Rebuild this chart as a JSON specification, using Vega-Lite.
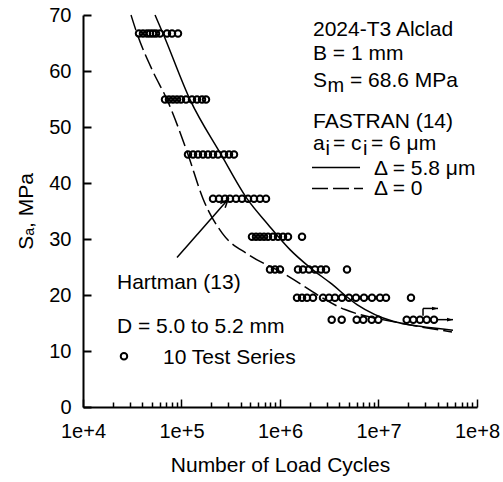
{
  "$schema": "https://vega.github.io/schema/vega-lite/v6.json",
  "width": 394,
  "height": 392,
  "autosize": {"type": "none"},
  "padding": {"left": 83, "top": 15, "right": 26, "bottom": 75},
  "background": "white",
  "config": {
    "view": {"stroke": null},
    "font": "Liberation Sans",
    "axis": {
      "grid": false,
      "domainColor": "black",
      "domainWidth": 2,
      "labelColor": "black",
      "titleColor": "black",
      "labelFont": "Liberation Sans",
      "titleFont": "Liberation Sans",
      "labelFontSize": 20,
      "titleFontSize": 21,
      "titleFontWeight": "normal"
    },
    "text": {"font": "Liberation Sans", "fontSize": 21, "color": "black"}
  },
  "datasets": {
    "pts": [
      {"N": 37030, "S": 66.7}, {"N": 40650, "S": 66.7}, {"N": 44640, "S": 66.7}, {"N": 47880, "S": 66.7}, {"N": 51360, "S": 66.7},
      {"N": 55100, "S": 66.7}, {"N": 60480, "S": 66.7}, {"N": 71250, "S": 66.7}, {"N": 80090, "S": 66.7}, {"N": 92150, "S": 66.7},
      {"N": 68000, "S": 54.9}, {"N": 74650, "S": 54.9}, {"N": 81950, "S": 54.9}, {"N": 90000, "S": 54.9}, {"N": 98830, "S": 54.9},
      {"N": 111100, "S": 54.9}, {"N": 127800, "S": 54.9}, {"N": 143700, "S": 54.9}, {"N": 161500, "S": 54.9}, {"N": 177300, "S": 54.9},
      {"N": 116400, "S": 45.1}, {"N": 130900, "S": 45.1}, {"N": 147100, "S": 45.1}, {"N": 165300, "S": 45.1}, {"N": 185800, "S": 45.1},
      {"N": 208900, "S": 45.1}, {"N": 234800, "S": 45.1}, {"N": 270100, "S": 45.1}, {"N": 303600, "S": 45.1}, {"N": 341200, "S": 45.1},
      {"N": 208900, "S": 37.2}, {"N": 240300, "S": 37.2}, {"N": 276400, "S": 37.2}, {"N": 310800, "S": 37.2}, {"N": 357600, "S": 37.2},
      {"N": 411400, "S": 37.2}, {"N": 473300, "S": 37.2}, {"N": 544500, "S": 37.2}, {"N": 626600, "S": 37.2}, {"N": 720900, "S": 37.2},
      {"N": 519600, "S": 30.4}, {"N": 570700, "S": 30.4}, {"N": 626600, "S": 30.4}, {"N": 688100, "S": 30.4}, {"N": 755500, "S": 30.4},
      {"N": 849000, "S": 30.4}, {"N": 954300, "S": 30.4}, {"N": 1072800, "S": 30.4}, {"N": 1205800, "S": 30.4}, {"N": 1673000, "S": 30.4},
      {"N": 791500, "S": 24.55}, {"N": 889700, "S": 24.55}, {"N": 1000000, "S": 24.55}, {"N": 1522700, "S": 24.55}, {"N": 1712000, "S": 24.55},
      {"N": 1969800, "S": 24.55}, {"N": 2266000, "S": 24.55}, {"N": 2607000, "S": 24.55}, {"N": 2931000, "S": 24.55}, {"N": 4788000, "S": 24.55},
      {"N": 1488000, "S": 19.5}, {"N": 1673000, "S": 19.5}, {"N": 1880000, "S": 19.5}, {"N": 2163000, "S": 19.5}, {"N": 2733000, "S": 19.5},
      {"N": 3145000, "S": 19.5}, {"N": 3617000, "S": 19.5}, {"N": 4260000, "S": 19.5}, {"N": 5017000, "S": 19.5}, {"N": 5908000, "S": 19.5},
      {"N": 7125000, "S": 19.5}, {"N": 8590000, "S": 19.5}, {"N": 10360000, "S": 19.5}, {"N": 11920000, "S": 19.5}, {"N": 21370000, "S": 19.5},
      {"N": 3349000, "S": 15.6}, {"N": 4231000, "S": 15.6}, {"N": 6006000, "S": 15.6}, {"N": 7011000, "S": 15.6}, {"N": 8531000, "S": 15.6},
      {"N": 9954000, "S": 15.6}, {"N": 19330000, "S": 15.6}, {"N": 22560000, "S": 15.6}, {"N": 26380000, "S": 15.6}, {"N": 30850000, "S": 15.6},
      {"N": 36600000, "S": 15.6}
    ],
    "legendpt": [{"N": 26060, "S": 9.07}],
    "curves": [
      {"curve": "solid", "N": 53830, "S": 70.0},
      {"curve": "solid", "N": 64900, "S": 66.7},
      {"curve": "solid", "N": 122000, "S": 54.9},
      {"curve": "solid", "N": 251800, "S": 45.1},
      {"curve": "solid", "N": 462400, "S": 37.2},
      {"curve": "solid", "N": 755100, "S": 32.6},
      {"curve": "solid", "N": 1263000, "S": 28.1},
      {"curve": "solid", "N": 2017000, "S": 24.9},
      {"curve": "solid", "N": 3218000, "S": 22.2},
      {"curve": "solid", "N": 6048000, "S": 18.3},
      {"curve": "solid", "N": 14040000, "S": 15.3},
      {"curve": "solid", "N": 26380000, "S": 14.4},
      {"curve": "solid", "N": 57040000, "S": 13.7},
      {"curve": "dashed", "N": 30720, "S": 70.0},
      {"curve": "dashed", "N": 35340, "S": 66.7},
      {"curve": "dashed", "N": 51000, "S": 60.0},
      {"curve": "dashed", "N": 71250, "S": 54.9},
      {"curve": "dashed", "N": 116400, "S": 45.1},
      {"curve": "dashed", "N": 165300, "S": 37.2},
      {"curve": "dashed", "N": 260000, "S": 31.0},
      {"curve": "dashed", "N": 480000, "S": 27.2},
      {"curve": "dashed", "N": 1000000, "S": 24.2},
      {"curve": "dashed", "N": 4571000, "S": 17.4},
      {"curve": "dashed", "N": 16530000, "S": 15.0},
      {"curve": "dashed", "N": 55720000, "S": 13.4}
    ],
    "keylines": [
      {"curve": "solid", "N": 2113000, "N2": 6491000, "S": 42.77},
      {"curve": "dashed", "N": 2113000, "N2": 6960000, "S": 39.0}
    ],
    "labels": [
      {"N": 2163000, "S": 66.2, "label": "2024-T3 Alclad"},
      {"N": 2163000, "S": 62.05, "label": "B = 1 mm"},
      {"N": 2163000, "S": 57.2, "label": "S"},
      {"N": 5136000, "S": 57.2, "label": "= 68.6 MPa"},
      {"N": 2163000, "S": 49.9, "label": "FASTRAN (14)"},
      {"N": 2163000, "S": 45.9, "label": "a"},
      {"N": 3453000, "S": 45.9, "label": "= c"},
      {"N": 8392000, "S": 45.9, "label": "= 6 μm"},
      {"N": 8995000, "S": 41.4, "label": "Δ = 5.8 μm"},
      {"N": 8995000, "S": 37.8, "label": "Δ = 0"},
      {"N": 22130, "S": 21.0, "label": "Hartman (13)"},
      {"N": 22130, "S": 13.25, "label": "D = 5.0 to 5.2 mm"},
      {"N": 64900, "S": 7.6, "label": "10 Test Series"}
    ],
    "subs": [
      {"N": 3036000, "S": 57.2, "label": "m"},
      {"N": 2897000, "S": 45.9, "label": "i"},
      {"N": 6960000, "S": 45.9, "label": "i"}
    ],
    "segments": [
      {"N": 90000, "S": 26.7, "N2": 296500, "S2": 37.05},
      {"N": 28310000, "S": 16.3, "N2": 28310000, "S2": 17.6},
      {"N": 28310000, "S": 17.6, "N2": 40180000, "S2": 17.6},
      {"N": 40180000, "S": 15.6, "N2": 57040000, "S2": 15.6}
    ],
    "openhead": [{"N": 296500, "S": 37.05}],
    "runheads": [{"N": 40180000, "S": 17.6}, {"N": 57040000, "S": 15.6}]
  },
  "encoding": {
    "x": {
      "field": "N", "type": "quantitative",
      "scale": {"type": "log", "domain": [10000, 100000000]},
      "axis": {
        "title": "Number of Load Cycles",
        "values": [10000, 20000, 30000, 40000, 50000, 60000, 70000, 80000, 90000,
                   100000, 200000, 300000, 400000, 500000, 600000, 700000, 800000, 900000,
                   1000000, 2000000, 3000000, 4000000, 5000000, 6000000, 7000000, 8000000, 9000000,
                   10000000, 20000000, 30000000, 40000000, 50000000, 60000000, 70000000, 80000000, 90000000,
                   100000000],
        "labelExpr": "abs(log(datum.value)/LN10 - round(log(datum.value)/LN10)) < 0.000001 ? '1e+' + round(log(datum.value)/LN10) : ''",
        "ticks": true,
        "tickColor": "black",
        "tickWidth": 1.5,
        "tickSize": {"condition": {"test": "abs(log(datum.value)/LN10 - round(log(datum.value)/LN10)) < 0.000001", "value": -8}, "value": -5},
        "labelPadding": 22,
        "labelFlush": false,
        "labelOverlap": false,
        "titlePadding": 10
      }
    },
    "y": {
      "field": "S", "type": "quantitative",
      "scale": {"domain": [0, 70], "nice": false, "zero": true},
      "axis": {
        "title": "Sₐ, MPa",
        "values": [0, 10, 20, 30, 40, 50, 60, 70],
        "ticks": true,
        "tickColor": "black",
        "tickWidth": 2,
        "tickSize": -8,
        "labelPadding": 20,
        "titlePadding": 12
      }
    }
  },
  "layer": [
    {
      "data": {"name": "pts"},
      "mark": {"type": "point", "shape": "circle", "filled": false, "size": 42, "strokeWidth": 2, "color": "black", "opacity": 1}
    },
    {
      "data": {"name": "legendpt"},
      "mark": {"type": "point", "shape": "circle", "filled": false, "size": 42, "strokeWidth": 2, "color": "black", "opacity": 1}
    },
    {
      "data": {"name": "curves"},
      "transform": [{"filter": "datum.curve == 'solid'"}],
      "mark": {"type": "line", "color": "black", "strokeWidth": 1.5, "interpolate": "monotone"}
    },
    {
      "data": {"name": "curves"},
      "transform": [{"filter": "datum.curve == 'dashed'"}],
      "mark": {"type": "line", "color": "black", "strokeWidth": 1.5, "interpolate": "monotone", "strokeDash": [16, 5]}
    },
    {
      "data": {"name": "keylines"},
      "transform": [{"filter": "datum.curve == 'solid'"}],
      "mark": {"type": "rule", "color": "black", "strokeWidth": 1.5},
      "encoding": {"x2": {"field": "N2"}}
    },
    {
      "data": {"name": "keylines"},
      "transform": [{"filter": "datum.curve == 'dashed'"}],
      "mark": {"type": "rule", "color": "black", "strokeWidth": 1.5, "strokeDash": [16, 5]},
      "encoding": {"x2": {"field": "N2"}}
    },
    {
      "data": {"name": "segments"},
      "mark": {"type": "rule", "color": "black", "strokeWidth": 1.5},
      "encoding": {"x2": {"field": "N2"}, "y2": {"field": "S2"}}
    },
    {
      "data": {"name": "openhead"},
      "mark": {"type": "point", "shape": "M -0.8 2 L 0 0 L 0.8 2", "filled": false, "size": 64, "strokeWidth": 1.5, "color": "black", "angle": 41, "opacity": 1}
    },
    {
      "data": {"name": "runheads"},
      "mark": {"type": "point", "shape": "M 0 0 L -2 -0.6 L -2 0.6 Z", "filled": true, "size": 36, "color": "black", "opacity": 1}
    },
    {
      "data": {"name": "labels"},
      "mark": {"type": "text", "align": "left", "baseline": "alphabetic", "fontSize": 21},
      "encoding": {"text": {"field": "label"}}
    },
    {
      "data": {"name": "subs"},
      "mark": {"type": "text", "align": "left", "baseline": "alphabetic", "fontSize": 20, "dy": 5},
      "encoding": {"text": {"field": "label"}}
    }
  ]
}
